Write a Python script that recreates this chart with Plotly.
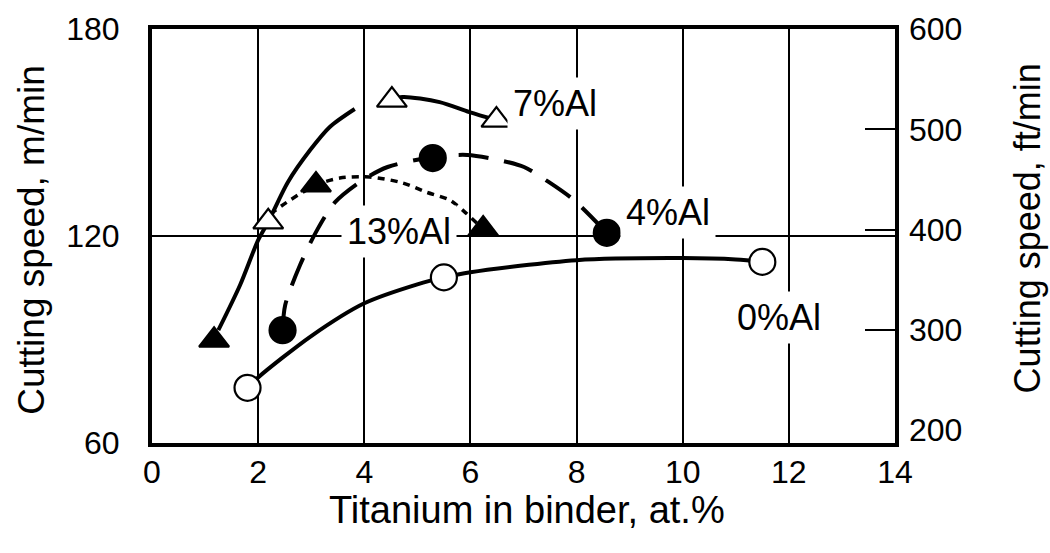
import plotly.graph_objects as go

FONT = "Liberation Sans, Arial, sans-serif"

# ---- measured data points (x: Ti in binder at.%, y: cutting speed m/min)
al0_x = [1.8, 5.5, 11.5]
al0_y = [76.0, 108.0, 112.5]
al4_x = [2.46, 5.29, 8.57]
al4_y = [92.7, 142.6, 120.9]
al7_x = [2.19, 4.52, 6.49]
al7_y = [124.1, 159.4, 153.6]
al13_x = [1.17, 3.09, 6.24]
al13_y = [89.8, 134.8, 122.0]

# ---- hand-drawn fitted curves
c0_x = [1.8, 2.0, 3.0, 4.0, 5.0, 5.5, 6.0, 8.0, 10.0, 11.0, 11.5]
c0_y = [76.0, 79.0, 91.0, 100.5, 106.0, 108.0, 109.5, 113.0, 113.6, 113.2, 112.5]
c4_x = [2.46, 2.51, 2.79, 3.11, 3.45, 3.97, 4.44, 5.29, 5.94, 6.54, 7.01, 7.48, 7.95, 8.57]
c4_y = [92.7, 100.0, 111.6, 121.7, 129.8, 136.2, 140.0, 142.9, 143.5, 142.0, 140.0, 135.6, 130.4, 120.9]
c7_x = [1.25, 1.66, 2.0, 2.19, 2.56, 2.98, 3.35, 3.82, None, 4.52, 4.72, 5.42, 5.98, 6.49]
c7_y = [92.7, 105.8, 118.8, 124.1, 135.6, 144.9, 151.6, 156.8, None, 159.4, 160.3, 158.8, 155.9, 153.6]
c13_x = [2.23, 2.6, 3.09, 3.54, 4.10, 4.72, 5.17, 5.61, 5.89, 6.24]
c13_y = [126.4, 130.4, 134.8, 136.8, 137.1, 135.4, 132.7, 130.4, 127.0, 122.0]

x_ticks = [0, 2, 4, 6, 8, 10, 12, 14]
y_ticks = [60, 120, 180]
y2_ticks = [200, 300, 400, 500, 600]
y2_inner_ticks = [300, 400, 500]

series_labels = ["7%Al", "4%Al", "13%Al", "0%Al"]
label_x = [7.6, 9.72, 4.65, 11.82]
label_y = [158.5, 126.7, 121.2, 96.5]

fig = go.Figure()

def curve(x, y, dash, width=3.5):
    fig.add_trace(go.Scatter(x=x, y=y, mode="lines", connectgaps=False,
                             line=dict(color="black", width=width, dash=dash,
                                       shape="spline", smoothing=0.8),
                             showlegend=False, hoverinfo="skip"))

curve(c0_x, c0_y, "solid", 4)
curve(c7_x, c7_y, "solid", 4)
curve(c13_x, c13_y, "7px,6px", 3.5)
curve(c4_x, c4_y, "30px,16px", 4)

def markers(x, y, symbol, filled, size):
    fig.add_trace(go.Scatter(x=x, y=y, mode="markers",
                             marker=dict(symbol=symbol, size=size,
                                         color="black" if filled else "white",
                                         line=dict(color="black", width=2.2)),
                             showlegend=False))

markers(al0_x, al0_y, "circle", False, 26)
markers(al4_x, al4_y, "circle", True, 26)
markers(al7_x, al7_y, "triangle-up", False, 26)
markers(al13_x, al13_y, "triangle-up", True, 26)

for t, lx, ly in zip(series_labels, label_x, label_y):
    fig.add_annotation(x=lx, y=ly, xref="x", yref="y", text=t, showarrow=False,
                       font=dict(family=FONT, size=36, color="black"),
                       bgcolor="white", borderpad=5)

# invisible traces to activate secondary axes
fig.add_trace(go.Scatter(x=[None], y=[None], yaxis="y2", showlegend=False))
fig.add_trace(go.Scatter(x=[None], y=[None], yaxis="y3", showlegend=False))

fig.add_annotation(x=0.505, y=-0.162, xref="paper", yref="paper",
                   xanchor="center", yanchor="middle",
                   text="Titanium in binder, at.%", showarrow=False,
                   font=dict(family=FONT, size=38, color="black"))
fig.add_annotation(x=-0.162, y=0.49, xref="paper", yref="paper",
                   xanchor="center", yanchor="middle",
                   text="Cutting speed, m/min", textangle=-90, showarrow=False,
                   font=dict(family=FONT, size=37, color="black"))
fig.add_annotation(x=1.178, y=0.519, xref="paper", yref="paper",
                   xanchor="center", yanchor="middle",
                   text="Cutting speed, ft/min", textangle=-90, showarrow=False,
                   font=dict(family=FONT, size=36, color="black"))

fig.update_layout(
    width=1050, height=553,
    margin=dict(l=152, r=155, t=29, b=110),
    paper_bgcolor="white", plot_bgcolor="white",
    font=dict(family=FONT, color="black"),
    xaxis=dict(range=[0, 14], tickvals=x_ticks, showgrid=True, gridcolor="black",
               gridwidth=2, showline=True, linecolor="black", linewidth=4,
               mirror=True, zeroline=False, ticks="", ticklabelstandoff=-2,
               tickfont=dict(family=FONT, size=32, color="black")),
    yaxis=dict(range=[60, 180], tickvals=y_ticks, showgrid=True, gridcolor="black",
               gridwidth=2, showline=True, linecolor="black", linewidth=4,
               mirror=True, zeroline=False, ticks="", ticklabelstandoff=22,
               tickfont=dict(family=FONT, size=32, color="black")),
    yaxis2=dict(range=[187.3, 600], overlaying="y", side="right",
                tickvals=y2_ticks, showgrid=False, zeroline=False, showline=False,
                ticks="", ticklabelstandoff=13,
                tickfont=dict(family=FONT, size=32, color="black")),
    yaxis3=dict(range=[187.3, 600], overlaying="y", side="right",
                tickvals=y2_inner_ticks, showgrid=False, zeroline=False,
                showline=False, ticks="inside", ticklen=30, tickwidth=2,
                tickcolor="black", showticklabels=False),
)

fig.write_html("out.html")
